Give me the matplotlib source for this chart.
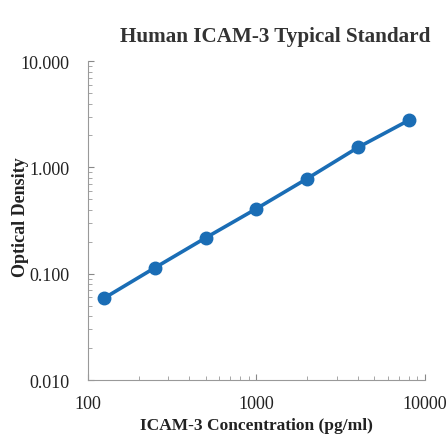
import numpy as np
import matplotlib.pyplot as plt
from matplotlib.ticker import FixedLocator, LogLocator, NullFormatter

conc = [125, 250, 500, 1000, 2000, 4000, 8000]
od = [0.059, 0.114, 0.218, 0.41, 0.787, 1.545, 2.78]
yticks = [0.01, 0.1, 1.0, 10.0]
ylabels = ["0.010", "0.100", "1.000", "10.000"]
xticks = [100, 1000, 10000]
xlabels = ["100", "1000", "10000"]

plt.rcParams['font.family'] = ['Liberation Serif', 'DejaVu Serif']

fig = plt.figure(figsize=(4.48, 4.35), dpi=100)
ax = fig.add_axes([0.196, 0.124, 0.753, 0.733])

ax.plot(conc, od, color='#1a6db5', lw=2.6, marker='o', ms=9, mec='#1a6db5', mfc='#1a6db5')
ax.set_xscale('log')
ax.set_yscale('log')
ax.set_xlim(100, 10000)
ax.set_ylim(0.01, 10)

ax.xaxis.set_major_locator(FixedLocator(xticks))
ax.set_xticklabels(xlabels)
ax.yaxis.set_major_locator(FixedLocator(yticks))
ax.set_yticklabels(ylabels)
ax.xaxis.set_minor_locator(LogLocator(base=10, subs=np.arange(2, 10)))
ax.yaxis.set_minor_locator(LogLocator(base=10, subs=np.arange(2, 10)))
ax.xaxis.set_minor_formatter(NullFormatter())
ax.yaxis.set_minor_formatter(NullFormatter())

ax.tick_params(axis='both', which='major', direction='in', length=4, width=0.8,
               colors='#888888', labelcolor='#222222', labelsize=13)
ax.tick_params(axis='both', which='minor', direction='in', length=3, width=0.6, colors='#999999')
ax.tick_params(axis='y', which='major', pad=13.5)
ax.tick_params(axis='x', which='major', pad=11)

for s in ['top', 'right']:
    ax.spines[s].set_visible(False)
for s in ['left', 'bottom']:
    ax.spines[s].set_color('#999999')
    ax.spines[s].set_linewidth(0.8)

ax.set_xlabel('ICAM-3 Concentration (pg/ml)', fontsize=12.5, fontweight='bold', color='#222222', labelpad=3)
fig.text(0.045, 0.5, 'Optical Density', rotation=90, ha='center', va='center',
         fontsize=13, fontweight='bold', color='#222222')
fig.text(0.615, 0.915, 'Human ICAM-3 Typical Standard', ha='center', va='center',
         fontsize=15.2, fontweight='bold', color='#333333')

fig.savefig('out.png', dpi=100)
